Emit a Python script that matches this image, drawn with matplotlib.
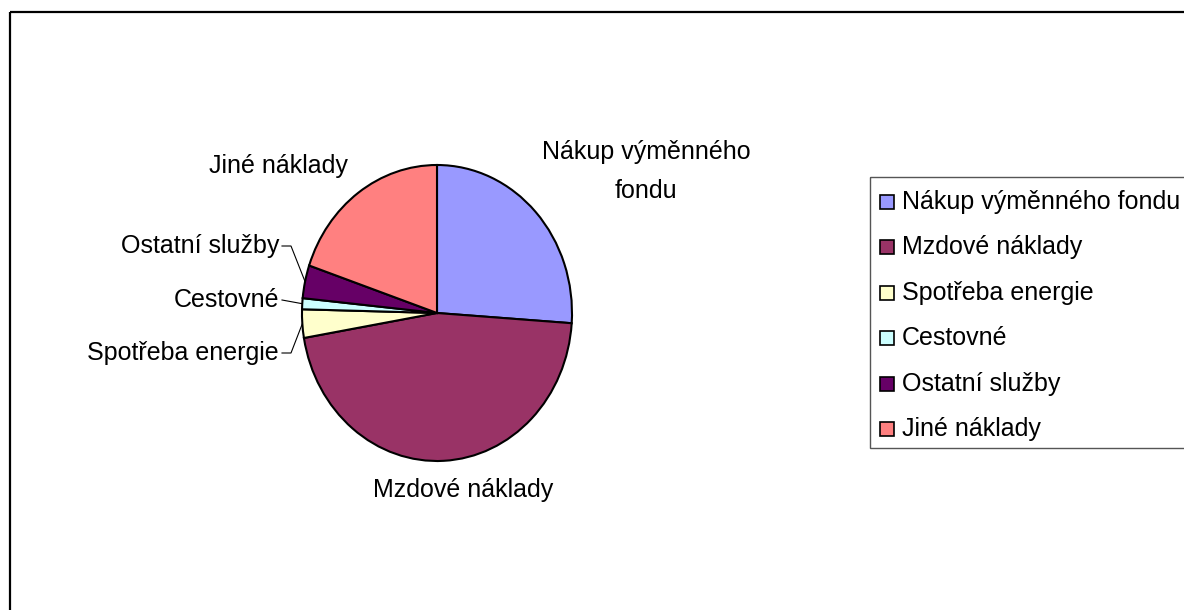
import numpy as np
import matplotlib
matplotlib.use("Agg")
import matplotlib.pyplot as plt
from matplotlib.patches import Rectangle

plt.rcParams['font.family'] = ['Liberation Sans', 'DejaVu Sans']

# data
categories = ['Nákup výměnného fondu', 'Mzdové náklady', 'Spotřeba energie',
              'Cestovné', 'Ostatní služby', 'Jiné náklady']
values = [26.1, 46.2, 3.1, 1.2, 3.6, 19.8]
colors = ['#9999FF', '#993366', '#FFFFCC', '#CCFFFF', '#660066', '#FF8080']

W, H = 1184, 610
fs = 18

# pie geometry in pixels (top-left origin)
cx, cy = 437, 313
rx, ry = 135, 148

fig = plt.figure(figsize=(W / 100, H / 100), dpi=100)

# overlay in pixel coords for frame, labels, legend
ov = fig.add_axes([0, 0, 1, 1])
ov.set_xlim(0, W)
ov.set_ylim(H, 0)
ov.axis('off')

ov.add_patch(Rectangle((10, 12), W + 20, H + 20, fill=False, ec='black', lw=1.6))

# pie axes (stretched to an ellipse)
pa = fig.add_axes([(cx - rx) / W, (H - cy - ry) / H, 2 * rx / W, 2 * ry / H])
wedges, _ = pa.pie(values, colors=colors, startangle=90, counterclock=False,
                   radius=1, wedgeprops=dict(edgecolor='black', linewidth=1.5))
pa.set_aspect('auto')
pa.set_xlim(-1.0, 1.0)
pa.set_ylim(-1.0, 1.0)
pa.axis('off')

# slice mid angles (clockwise from 12 o'clock)
cum = np.cumsum([0] + values)
tot = cum[-1]
mid = [(cum[i] + cum[i + 1]) / 2 / tot * 360 for i in range(len(values))]


def edge(i):
    t = np.radians(mid[i])
    return cx + rx * np.sin(t), cy - ry * np.cos(t)


# data labels
ov.text(646, 152, 'Nákup výměnného', ha='center', va='center', fontsize=fs)
ov.text(646, 191, 'fondu', ha='center', va='center', fontsize=fs)
ov.text(463, 490, 'Mzdové náklady', ha='center', va='center', fontsize=fs)
ov.text(278, 166, 'Jiné náklady', ha='center', va='center', fontsize=fs)

side = {4: ('Ostatní služby', 246), 3: ('Cestovné', 300), 2: ('Spotřeba energie', 353)}
for i, (lab, ly) in side.items():
    ov.text(279, ly, lab, ha='right', va='center', fontsize=fs)
    ex, ey = edge(i)
    if i == 3:
        ov.plot([282, ex], [ly, ey], color='black', lw=0.8)
    else:
        ov.plot([282, 291, ex], [ly, ly, ey], color='black', lw=0.8)

# legend
ov.add_patch(Rectangle((870, 177), 400, 271, fill=False, ec='#555555', lw=1.0))
for i, lab in enumerate(categories):
    yc = 201.7 + i * 45.5
    ov.add_patch(Rectangle((880, yc - 7), 14, 14, fc=colors[i], ec='black', lw=1.2))
    ov.text(902, yc, lab, ha='left', va='center', fontsize=fs)

fig.savefig('out.png', dpi=100)
